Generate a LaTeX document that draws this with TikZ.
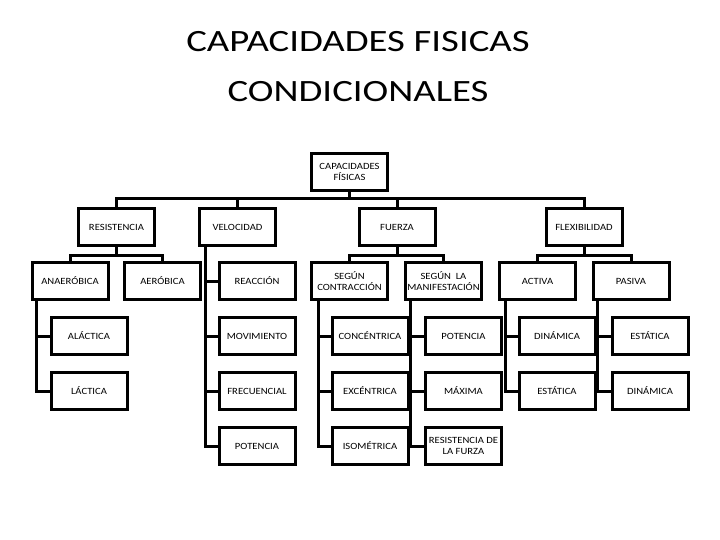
\documentclass[tikz,border=0pt]{standalone}
\usepackage{fontspec}
\setmainfont{Carlito}
\newfontfamily\titlefont[FakeStretch=1.25]{Carlito}
\newfontfamily\boxfont[FakeStretch=1.12]{Carlito}
\begin{document}
\begin{tikzpicture}[x=1pt,y=-1pt,line width=3pt,
  box/.style={draw,line width=3pt,minimum width=76pt,minimum height=37pt,inner sep=1pt,align=center,
    font=\boxfont\fontsize{9.5}{11.5}\selectfont},
  ttl/.style={anchor=base,inner sep=0pt,font=\titlefont\fontsize{31}{37}\selectfont}]
\useasboundingbox (0,0) rectangle (720,540);
% title
\node[ttl] (t1) at (358,52) {CAPACIDADES FISICAS};
\node[ttl] (t2) at (358,102) {CONDICIONALES};
% root and level 1
\node[box] (root) at (349.5,172) {CAPACIDADES\\FÍSICAS};
\node[box] (res) at (116.5,227) {RESISTENCIA};
\node[box] (vel) at (237.5,227) {VELOCIDAD};
\node[box] (fue) at (397,227) {FUERZA};
\node[box] (fle) at (584,227) {FLEXIBILIDAD};
% level 2
\node[box] (ana) at (70,281) {ANAERÓBICA};
\node[box] (aer) at (162.5,281) {AERÓBICA};
\node[box] (rea) at (257,281) {REACCIÓN};
\node[box] (con) at (349.5,281) {SEGÚN\\CONTRACCIÓN};
\node[box] (man) at (443.5,281) {SEGÚN\ \ LA\\MANIFESTACIÓN};
\node[box] (act) at (537.5,281) {ACTIVA};
\node[box] (pas) at (631,281) {PASIVA};
% level 3
\node[box] (ala) at (89,336) {ALÁCTICA};
\node[box] (lac) at (89,391) {LÁCTICA};
\node[box] (mov) at (257,336) {MOVIMIENTO};
\node[box] (fre) at (257,391) {FRECUENCIAL};
\node[box] (pot) at (257,446) {POTENCIA};
\node[box] (cnc) at (370,336) {CONCÉNTRICA};
\node[box] (exc) at (370,391) {EXCÉNTRICA};
\node[box] (iso) at (370,446) {ISOMÉTRICA};
\node[box] (potf) at (463.5,336) {POTENCIA};
\node[box] (max) at (463.5,391) {MÁXIMA};
\node[box] (rfz) at (463.5,446) {RESISTENCIA DE\\LA FURZA};
\node[box] (din) at (557,336) {DINÁMICA};
\node[box] (est) at (557,391) {ESTÁTICA};
\node[box] (esp) at (650,336) {ESTÁTICA};
\node[box] (dip) at (650,391) {DINÁMICA};
% buses
\coordinate (b0) at (349.5,199);
\draw (root.south) -- (b0);
\foreach \n in {res,vel,fue,fle} \draw (b0) -| (\n.north);
\coordinate (b1) at (116.5,255);
\draw (res.south) -- (b1);
\draw (b1) -| (ana.north);
\draw (b1) -| (aer.north);
\coordinate (b2) at (397,255);
\draw (fue.south) -- (b2);
\draw (b2) -| (con.north);
\draw (b2) -| (man.north);
\coordinate (b3) at (584,255);
\draw (fle.south) -- (b3);
\draw (b3) -| (act.north);
\draw (b3) -| (pas.north);
% trunks
\foreach \n in {ala,lac} \draw ([xshift=6pt]ana.south west) |- (\n.west);
\foreach \n in {rea,mov,fre,pot} \draw ([xshift=7.5pt]vel.south west) |- (\n.west);
\foreach \n in {cnc,exc,iso} \draw ([xshift=8pt]con.south west) |- (\n.west);
\foreach \n in {potf,max,rfz} \draw ([xshift=6.5pt]man.south west) |- (\n.west);
\foreach \n in {din,est} \draw ([xshift=7.5pt]act.south west) |- (\n.west);
\foreach \n in {esp,dip} \draw ([xshift=6pt]pas.south west) |- (\n.west);
\end{tikzpicture}
\end{document}
